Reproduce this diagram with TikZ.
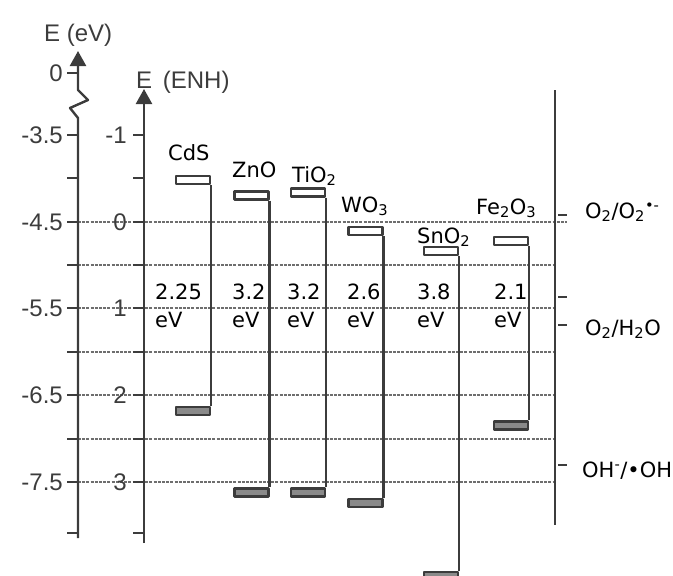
\documentclass[tikz,border=0pt]{standalone}
\usepackage{fontspec}
\setmainfont{Liberation Sans}
\newfontfamily\labfont{DejaVu Sans}
\usetikzlibrary{arrows.meta}
\definecolor{axgray}{HTML}{3C3C3C}
\definecolor{dashgray}{HTML}{6E6E6E}
\definecolor{vbgray}{HTML}{8A8A8A}
\begin{document}
\begin{tikzpicture}[x=1pt,y=-1pt, line join=round,
	axis/.style={draw=axgray, line width=2.4pt},
	grid/.style={draw=dashgray, line width=1.4pt, dash pattern=on 3pt off 1.2pt},
	cb/.style={draw=axgray, line width=2.2pt, minimum width=34pt, minimum height=8pt, inner sep=0pt},
	vb/.style={cb, fill=vbgray},
	ticklab/.style={font=\fontsize{24}{28}\selectfont, text=axgray, inner sep=0pt, anchor=east},
	mat/.style={font=\labfont\fontsize{21}{25}\selectfont, inner sep=0pt, anchor=base west},
	gap/.style={font=\labfont\fontsize{21}{25}\selectfont, inner sep=0pt, anchor=base west},
	redox/.style={font=\labfont\fontsize{21}{25}\selectfont, inner sep=0pt, anchor=base west}]
	\useasboundingbox (0,0) rectangle (673,576);
	\def\xev{78} \def\xnh{144} \def\xr{555} % axes
	% grid
	\foreach \y in {265,308,352,395,439,482} \draw[grid] (\xev,\y)--(\xr,\y);
	\draw[grid] (\xev,222)--(567,222);
	% axes
	\draw[axis,-{Triangle[length=15pt,width=16pt]}] (\xev,538)--(\xev,118)--(70,108)--(88,100)--(\xev,90)--(\xev,51);
	\draw[axis,-{Triangle[length=15pt,width=16pt]}] (\xnh,543)--(\xnh,89);
	\draw[axis] (\xr,90)--(\xr,525);
	\draw[axis] (67,73)--(\xev,73);
	\foreach \y in {135,178,222,265,308,352,395,439,482,533} {
		\draw[axis] (67,\y)--(\xev,\y);
		\draw[axis] (133,\y)--(\xnh,\y);
	}
	\node[ticklab, anchor=base west] (tev) at (44,41) {E (eV)};
	\node[ticklab, anchor=base west] (tnh) at (136,88) {E \,(ENH)};
	\foreach \y/\l [count=\i] in {73/0,135/-3.5,222/-4.5,308/-5.5,395/-6.5,482/-7.5}
		\node[ticklab] (ev\i) at (63,\y) {\l};
	\foreach \y/\l [count=\i] in {135/-1,222/0,308/1,395/2,482/3}
		\node[ticklab] (nh\i) at (127,\y) {\l};
	% bands
	\foreach \x/\c/\v/\g/\gx [count=\i] in {193/180/411/2.25/155, 251.5/195.5/492.5/3.2/232, 308/192.5/492.5/3.2/287, 365.5/231/503/2.6/347, 441/251/576/3.8/417, 511/241/425.5/2.1/494} {
		\node[cb] (cb\i) at (\x,\c) {};
		\node[vb] (vb\i) at (\x,\v) {};
		\draw[axis] (cb\i.south east)--(vb\i.north east);
		\node[gap] (g\i) at (\gx,299) {\g};
		\node[gap] (e\i) at (\gx,327) {eV};
	}
	\foreach \t/\x/\y [count=\i] in {CdS/168/160, ZnO/232/177, {TiO\textsubscript{2}}/292/182, {WO\textsubscript{3}}/341/212, {SnO\textsubscript{2}}/417/243, {Fe\textsubscript{2}O\textsubscript{3}}/476/214}
		\node[mat] (m\i) at (\x,\y) {\t};
	% redox levels
	\foreach \y in {215,297,325,465} \draw[axis] (558,\y)--(567,\y);
	\node[redox] (r1) at (585,218) {O\textsubscript{2}/O\textsubscript{2}\textsuperscript{•-}};
	\node[redox] (r2) at (585,335) {O\textsubscript{2}/H\textsubscript{2}O};
	\node[redox] (r3) at (582,477) {OH\textsuperscript{-}/•OH};
\end{tikzpicture}
\end{document}
